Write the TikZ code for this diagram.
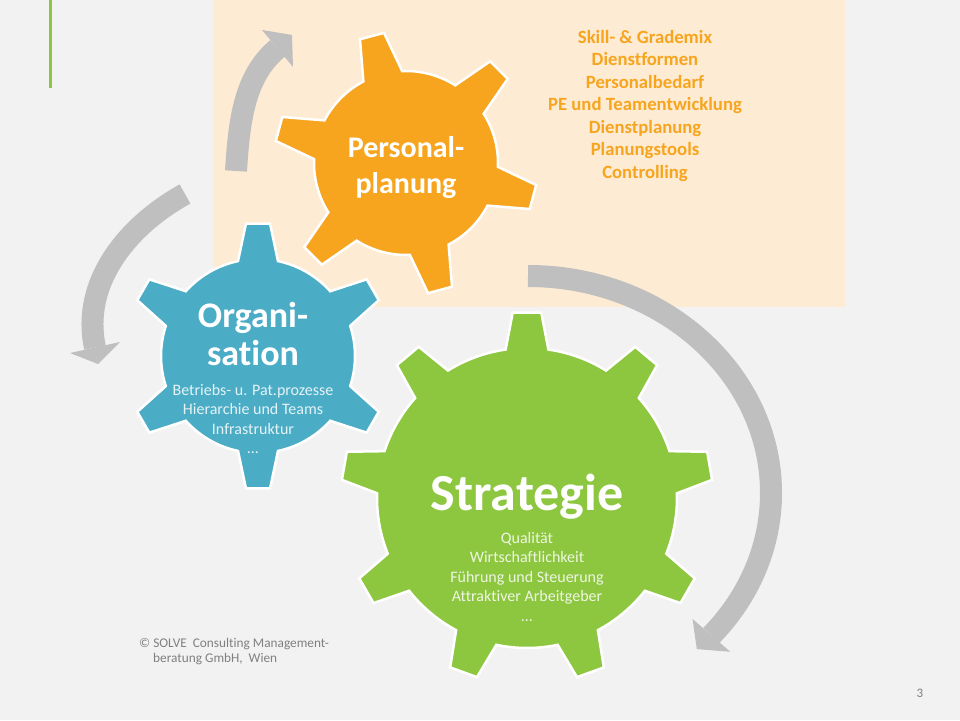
\documentclass[tikz,border=0pt]{standalone}
\usepackage{fontspec}
\setmainfont{Carlito}[Ligatures=NoCommon]
\usetikzlibrary{calc}

\definecolor{slidebg}{HTML}{F2F2F2}
\definecolor{peach}{HTML}{FDEBD3}
\definecolor{planorange}{HTML}{F7A51E}
\definecolor{orgblue}{HTML}{4BACC6}
\definecolor{stratgreen}{HTML}{8DC63F}
\definecolor{arrowgray}{HTML}{BFBFBF}
\definecolor{notegray}{HTML}{808080}

\newcommand{\gearfill}[8]{%
  \pgfmathsetmacro{\gstep}{360/#3}%
  \filldraw[#1,shift={(#2)}] ({#4-#7}:#5)
    \foreach \k in {1,...,#3}{
      -- ({#4+(\k-1)*\gstep-#8}:#6) -- ({#4+(\k-1)*\gstep+#8}:#6)
      -- ({#4+(\k-1)*\gstep+#7}:#5)
      arc[start angle={#4+(\k-1)*\gstep+#7}, end angle={#4+\k*\gstep-#7}, radius=#5]
    } -- cycle;}

\begin{document}
\begin{tikzpicture}[x=1pt,y=-1pt,
    gear/.style={draw=white,line width=2.5pt,fill=#1},
    band/.style={draw=arrowgray,line width=22pt},
    gearhead/.style={text=white,inner sep=0pt,anchor=base,font=\bfseries\fontsize{#1}{#1}\selectfont},
    gearlist/.style={text=white!85!#1,inner sep=0pt,anchor=north,align=center,font=\fontsize{16}{19.5}\selectfont},
    note/.style={text=notegray,inner sep=0pt,anchor=base west,font=\fontsize{13.3}{15}\selectfont}]
\useasboundingbox (0,0) rectangle (960,720);
\fill[slidebg] (0,0) rectangle (960,720);
\fill[peach] (213,0) rectangle (845,307);
\draw[stratgreen,line width=3pt] (50,0) -- (50,88);

\coordinate (P) at (406,163);
\coordinate (O) at (258,356);
\coordinate (S) at (527,498);
\coordinate (E) at (528,493);

\draw[band] (236,171) .. controls (239,125) and (243,77) .. (277.5,48.5);
\fill[arrowgray] (262,30) -- (292,35) -- (293,67) -- cycle;
\draw[band] (185,194) .. controls (127,226) and (81,283) .. (95,347.5);
\fill[arrowgray] (70,353) -- (98,364) -- (120,342) -- cycle;
\draw[band] ($(E)+(-90:243 and 217)$) arc[start angle=-90, end angle=41, x radius=243, y radius=217];
\fill[arrowgray] ($(E)+(41:218 and 192)$) -- ($(E)+(46:243 and 217)$) -- ($(E)+(41:268 and 242)$) -- cycle;

\gearfill{gear=stratgreen}{S}{9}{-90}{150}{186}{8.2}{4.4}
\gearfill{gear=orgblue}{O}{6}{-90}{97}{133}{11.9}{5.2}
\gearfill{gear=planorange}{P}{6}{-105}{92}{132}{12.6}{5.4}

\node[gearhead=30] (pers) at (406,157) {Personal-};
\node[gearhead=30] (plan) at (406,193) {planung};
\node[gearhead=36] (orga) at (253,327) {Organi-};
\node[gearhead=36] (sati) at (253,365) {sation};
\node[gearhead=52] (strat) at (527,510) {Strategie};

\node[gearlist=orgblue] (listO) at (253,384) {Betriebs- u. Pat.prozesse\\Hierarchie und Teams\\Infrastruktur\\…};
\node[gearlist=stratgreen] (listS) at (527,532) {Qualität\\Wirtschaftlichkeit\\Führung und Steuerung\\Attraktiver Arbeitgeber\\…};
\node[text=planorange,inner sep=0pt,anchor=north,align=center,font=\bfseries\fontsize{18.7}{22.5}\selectfont] (listP) at (645,30)
  {Skill- \& Grademix\\Dienstformen\\Personalbedarf\\PE und Teamentwicklung\\Dienstplanung\\Planungstools\\Controlling};

\node[note] (copy1) at (139,647) {© SOLVE\ \ Consulting Management-};
\node[note] (copy2) at (153,662) {beratung GmbH,\ \ Wien};
\node[text=notegray,inner sep=0pt,anchor=base,font=\fontsize{13}{15}\selectfont] (page) at (920,697) {3};
\end{tikzpicture}
\end{document}
